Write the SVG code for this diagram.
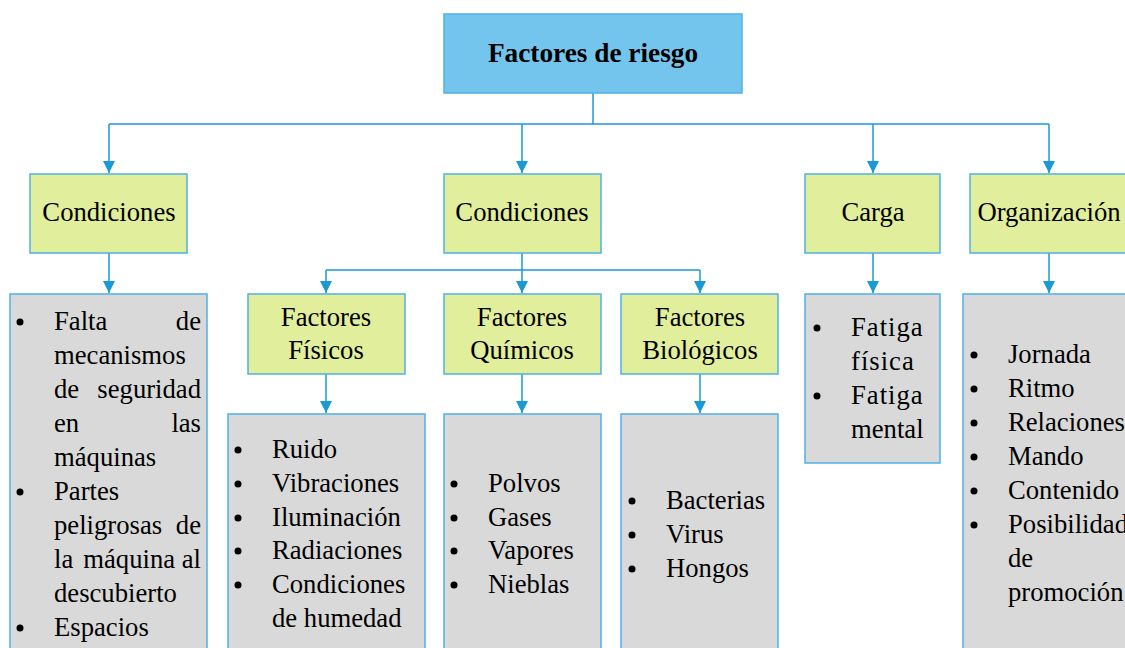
<svg xmlns="http://www.w3.org/2000/svg" width="1125" height="648" viewBox="0 0 1125 648">
<style>
text{font-family:"Liberation Serif","Times New Roman","DejaVu Serif",serif;font-size:26.67px;fill:#000}
.c{text-anchor:middle}
.e{text-anchor:end}
.b{font-weight:bold;font-size:27.3px}
.top{fill:#74c5ee;stroke:#4fb1e6;stroke-width:1.5}
.grn{fill:#e1ee9c;stroke:#4fb1e6;stroke-width:1.5}
.gry{fill:#d9d9d9;stroke:#4fb1e6;stroke-width:1.5}
.ln{fill:none;stroke:#1b98d6;stroke-width:1.5}
.dot{fill:#000}
</style>
<defs>
<marker id="ah" viewBox="0 0 12 12" refX="12" refY="6" markerWidth="12" markerHeight="12" markerUnits="userSpaceOnUse" orient="auto">
<path d="M0,0 L12,6 L0,12 Z" fill="#1b98d6"/>
</marker>
</defs>
<rect width="1125" height="648" fill="#fff"/>
<g id="connectors">
<path class="ln" d="M593,93 V124"/>
<path class="ln" d="M109,124 H1049"/>
<path class="ln" d="M109,124 V173" marker-end="url(#ah)"/>
<path class="ln" d="M522,124 V173" marker-end="url(#ah)"/>
<path class="ln" d="M873,124 V173" marker-end="url(#ah)"/>
<path class="ln" d="M1049,124 V173" marker-end="url(#ah)"/>
<path class="ln" d="M109,253 V293" marker-end="url(#ah)"/>
<path class="ln" d="M522,253 V293" marker-end="url(#ah)"/>
<path class="ln" d="M326,270 H700"/>
<path class="ln" d="M326,270 V293" marker-end="url(#ah)"/>
<path class="ln" d="M700,270 V293" marker-end="url(#ah)"/>
<path class="ln" d="M873,253 V293" marker-end="url(#ah)"/>
<path class="ln" d="M1049,253 V293" marker-end="url(#ah)"/>
<path class="ln" d="M326,374 V413" marker-end="url(#ah)"/>
<path class="ln" d="M522,374 V413" marker-end="url(#ah)"/>
<path class="ln" d="M700,374 V413" marker-end="url(#ah)"/>
</g>
<g id="n-root">
<rect class="top" x="444" y="14" width="298" height="79"/>
<text class="c b" x="593" y="62">Factores de riesgo</text>
</g>
<g id="n-cond1">
<rect class="grn" x="30" y="174" width="157" height="79"/>
<text class="c" x="109" y="221">Condiciones</text>
</g>
<g id="n-cond2">
<rect class="grn" x="444" y="174" width="157" height="79"/>
<text class="c" x="522" y="221">Condiciones</text>
</g>
<g id="n-carga">
<rect class="grn" x="805" y="174" width="135" height="79"/>
<text class="c" x="873" y="221">Carga</text>
</g>
<g id="n-org">
<rect class="grn" x="970" y="174" width="160" height="79"/>
<text class="c" x="1049" y="221">Organización</text>
</g>
<g id="n-fis">
<rect class="grn" x="248" y="294" width="157" height="80"/>
<text class="c" x="326" y="326">Factores</text>
<text class="c" x="326" y="359">Físicos</text>
</g>
<g id="n-qui">
<rect class="grn" x="444" y="294" width="157" height="80"/>
<text class="c" x="522" y="326">Factores</text>
<text class="c" x="522" y="359">Químicos</text>
</g>
<g id="n-bio">
<rect class="grn" x="621" y="294" width="157" height="80"/>
<text class="c" x="700" y="326">Factores</text>
<text class="c" x="700" y="359">Biológicos</text>
</g>
<g id="n-list1">
<rect class="gry" x="10" y="294" width="197" height="360"/>
<circle class="dot" cx="20" cy="322" r="3.5"/>
<circle class="dot" cx="20" cy="492" r="3.5"/>
<circle class="dot" cx="20" cy="628" r="3.5"/>
<text x="54" y="330">Falta</text><text class="e" x="201" y="330">de</text>
<text x="54" y="364">mecanismos</text>
<text x="54" y="398">de</text><text class="e" x="201" y="398">seguridad</text>
<text x="54" y="432">en</text><text class="e" x="201" y="432">las</text>
<text x="54" y="466">máquinas</text>
<text x="54" y="500">Partes</text>
<text x="54" y="534">peligrosas</text><text class="e" x="201" y="534">de</text>
<text x="54" y="568">la</text><text class="e" x="201" y="568">máquina al</text>
<text x="54" y="602">descubierto</text>
<text x="54" y="636">Espacios</text>
</g>
<g id="n-list-fis">
<rect class="gry" x="228" y="414" width="197" height="240"/>
<circle class="dot" cx="238" cy="450" r="3.5"/>
<circle class="dot" cx="238" cy="484" r="3.5"/>
<circle class="dot" cx="238" cy="518" r="3.5"/>
<circle class="dot" cx="238" cy="551" r="3.5"/>
<circle class="dot" cx="238" cy="585" r="3.5"/>
<text x="272" y="458">Ruido</text>
<text x="272" y="492">Vibraciones</text>
<text x="272" y="526">Iluminación</text>
<text x="272" y="559">Radiaciones</text>
<text x="272" y="593">Condiciones</text>
<text x="272" y="627">de humedad</text>
</g>
<g id="n-list-qui">
<rect class="gry" x="444" y="414" width="157" height="240"/>
<circle class="dot" cx="454" cy="484" r="3.5"/>
<circle class="dot" cx="454" cy="518" r="3.5"/>
<circle class="dot" cx="454" cy="551" r="3.5"/>
<circle class="dot" cx="454" cy="585" r="3.5"/>
<text x="488" y="492">Polvos</text>
<text x="488" y="526">Gases</text>
<text x="488" y="559">Vapores</text>
<text x="488" y="593">Nieblas</text>
</g>
<g id="n-list-bio">
<rect class="gry" x="621" y="414" width="157" height="240"/>
<circle class="dot" cx="632" cy="501" r="3.5"/>
<circle class="dot" cx="632" cy="535" r="3.5"/>
<circle class="dot" cx="632" cy="569" r="3.5"/>
<text x="666" y="509">Bacterias</text>
<text x="666" y="543">Virus</text>
<text x="666" y="577">Hongos</text>
</g>
<g id="n-list-carga">
<rect class="gry" x="805" y="294" width="135" height="169"/>
<circle class="dot" cx="817" cy="328" r="3.5"/>
<circle class="dot" cx="817" cy="396" r="3.5"/>
<text x="851" y="336" letter-spacing="1">Fatiga</text>
<text x="851" y="370" letter-spacing="1">física</text>
<text x="851" y="404" letter-spacing="1">Fatiga</text>
<text x="851" y="438">mental</text>
</g>
<g id="n-list-org">
<rect class="gry" x="963" y="294" width="170" height="360"/>
<circle class="dot" cx="974" cy="355" r="3.5"/>
<circle class="dot" cx="974" cy="389" r="3.5"/>
<circle class="dot" cx="974" cy="423" r="3.5"/>
<circle class="dot" cx="974" cy="457" r="3.5"/>
<circle class="dot" cx="974" cy="491" r="3.5"/>
<circle class="dot" cx="974" cy="525" r="3.5"/>
<text x="1008" y="363">Jornada</text>
<text x="1008" y="397">Ritmo</text>
<text x="1008" y="431">Relaciones</text>
<text x="1008" y="465">Mando</text>
<text x="1008" y="499">Contenido</text>
<text x="1008" y="533">Posibilidad</text>
<text x="1008" y="567">de</text>
<text x="1008" y="601">promoción</text>
</g>
</svg>
